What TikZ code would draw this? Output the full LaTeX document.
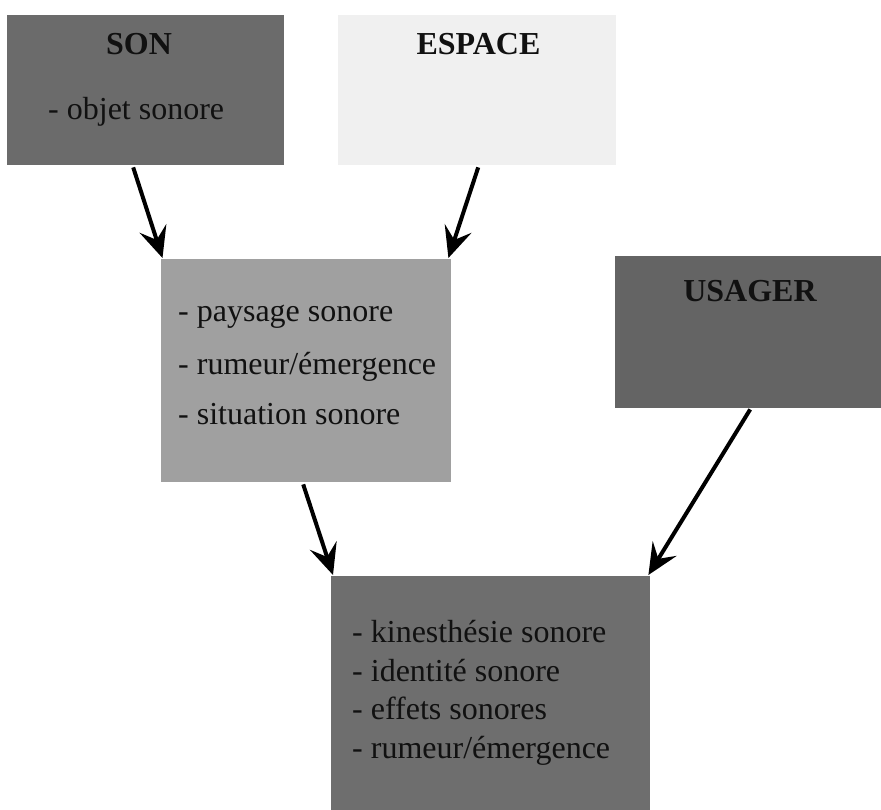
\documentclass[tikz,border=0pt]{standalone}
\usepackage{fontspec}
\setmainfont{Liberation Serif}
\usetikzlibrary{arrows.meta}
\definecolor{darkbox}{HTML}{6B6B6B}
\definecolor{usagerbox}{HTML}{646464}
\definecolor{bottombox}{HTML}{6E6E6E}
\definecolor{midbox}{HTML}{A0A0A0}
\definecolor{lightbox}{HTML}{F0F0F0}
\definecolor{inktext}{HTML}{111111}
\begin{document}
\begin{tikzpicture}[x=1pt,y=-1pt,
  box/.style={rectangle, inner sep=0pt, anchor=north west},
  titletext/.style={anchor=base, inner sep=0pt, text=inktext, font=\fontsize{32}{38}\selectfont\bfseries},
  itemtext/.style={anchor=base west, inner sep=0pt, text=inktext, font=\fontsize{32}{38}\selectfont},
  arr/.style={line width=4pt, -{Stealth[length=31pt, width=28pt, inset=12pt]}}
]
\useasboundingbox[fill=white] (0,0) rectangle (881,810);

% boxes
\node[box, fill=darkbox, minimum width=277pt, minimum height=150pt] (son) at (7,15) {};
\node[box, fill=lightbox, minimum width=278pt, minimum height=150pt] (espace) at (338,15) {};
\node[box, fill=midbox, minimum width=290pt, minimum height=223pt] (mid) at (161,259) {};
\node[box, fill=usagerbox, minimum width=266pt, minimum height=152pt] (usager) at (615,256) {};
\node[box, fill=bottombox, minimum width=319pt, minimum height=236pt] (bottom) at (331,576) {};

% texts
\node[titletext] (sontitle) at (139,55) {SON};
\node[itemtext] (son1) at (48,120) {- objet sonore};
\node[titletext] (espacetitle) at (478.5,55) {ESPACE};
\node[titletext] (usagertitle) at (750,302) {USAGER};

\node[itemtext] (mid1) at (178,322) {- paysage sonore};
\node[itemtext] (mid2) at (178,374) {- rumeur/émergence};
\node[itemtext] (mid3) at (178,424) {- situation sonore};

\node[itemtext] (bot1) at (352,642) {- kinesthésie sonore};
\node[itemtext] (bot2) at (352,681) {- identité sonore};
\node[itemtext] (bot3) at (352,719) {- effets sonores};
\node[itemtext] (bot4) at (352,758) {- rumeur/émergence};

% arrows
\draw[arr] ([xshift=-12.5pt,yshift=-2pt]son.south) -- ([xshift=1.5pt,yshift=1pt]mid.north west);
\draw[arr] ([xshift=1pt,yshift=-2pt]espace.south) -- ([xshift=-3pt,yshift=1pt]mid.north east);
\draw[arr] ([xshift=-3pt,yshift=-2pt]mid.south) -- ([xshift=2pt,yshift=1pt]bottom.north west);
\draw[arr] ([xshift=2pt,yshift=-1pt]usager.south) -- ([xshift=-2pt,yshift=1pt]bottom.north east);
\end{tikzpicture}
\end{document}
